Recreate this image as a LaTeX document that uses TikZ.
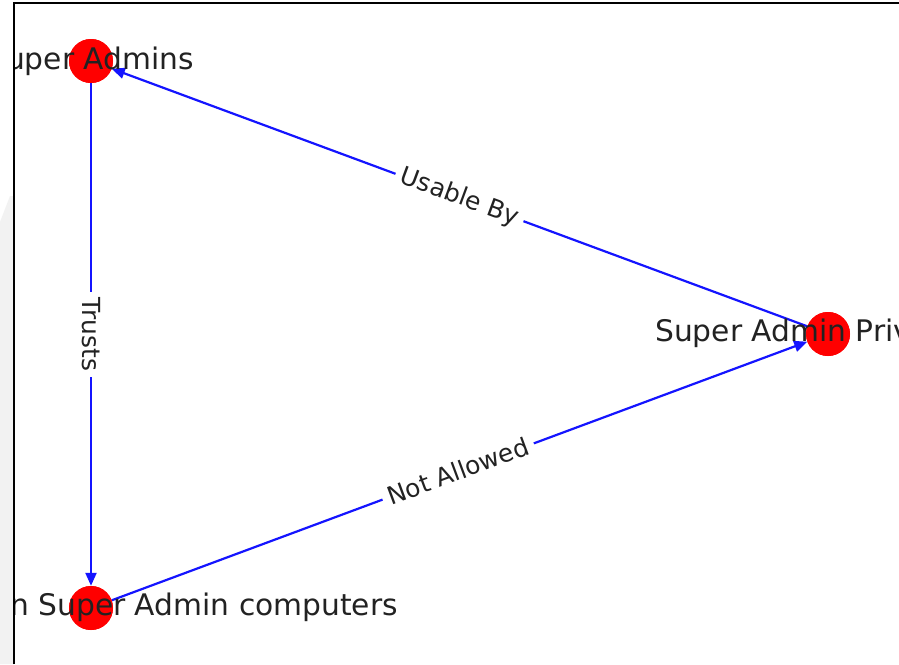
\documentclass[tikz,border=0pt]{standalone}
\usepackage{fontspec}
\setmainfont{DejaVu Sans}
\usetikzlibrary{arrows.meta}
\definecolor{edgeblue}{RGB}{20,20,255}
\definecolor{nodered}{RGB}{255,0,0}
\definecolor{stripgray}{RGB}{242,242,242}
\definecolor{labelink}{RGB}{34,34,34}
\tikzset{
  vertex/.style={circle, fill=nodered, draw=none, minimum size=44pt, inner sep=0pt},
  vlabel/.style={inner sep=0pt, text=labelink, font=\fontsize{29.7}{32}\selectfont},
  elabel/.style={fill=white, inner sep=6pt, text=labelink, font=\fontsize{24.9}{27}\selectfont},
  link/.style={draw=edgeblue, line width=2.2pt, -{Triangle[length=13pt,width=11pt]}},
}
\begin{document}
\begin{tikzpicture}[x=1pt,y=-1pt]
\useasboundingbox (0,0) rectangle (899,664);
% left strip outside the axes
\fill[white] (0,0) rectangle (14,664);
\fill[stripgray] (0,222) -- (10,196) -- (14,196) -- (14,664) -- (0,664) -- cycle;
\begin{scope}
\clip (14,3) rectangle (899,664);
\fill[white] (14,3) rectangle (899,664);
% nodes
\node[vertex] (sa) at (91,61) {};
\node[vertex] (nc) at (91,608) {};
\node[vertex] (pr) at (828,334) {};
% edges
\draw[link] (pr) -- (sa);
\draw[link] (sa) -- (nc);
\draw[link] (nc) -- (pr);
% edge labels
\node[elabel, rotate=-20.33] (lub) at (459.5,197.5) {Usable By};
\node[elabel, rotate=-90] (ltr) at (91,334.5) {Trusts};
\node[elabel, rotate=20.39] (lna) at (458,471) {Not Allowed};
% node circles again on top of edges
\node[vertex] at (sa) {};
\node[vertex] at (nc) {};
\node[vertex] at (pr) {};
% node labels
\node[vlabel, anchor=east] (tsa) at (194,61) {uper Admins};
\node[vlabel, anchor=east] (tnc) at (398,607) {n Super Admin computers};
\node[vlabel, anchor=west] (tpr) at (655,333) {Super Admin Priv};
\end{scope}
% axes frame
\draw[black, line width=2pt] (14,664) -- (14,3) -- (899,3);
\end{tikzpicture}
\end{document}
